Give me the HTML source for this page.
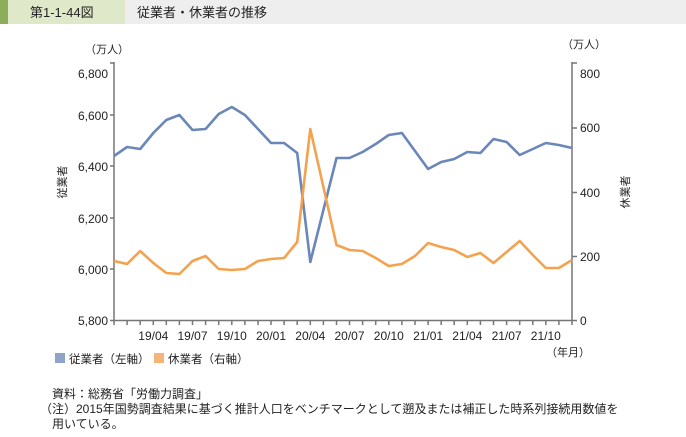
<!DOCTYPE html>
<html><head><meta charset="utf-8"><style>
body{margin:0;width:686px;height:432px;background:#fff;overflow:hidden;font-family:"Liberation Sans","Noto Sans CJK JP",sans-serif;}
</style></head><body>
<svg width="686" height="432" xmlns="http://www.w3.org/2000/svg" font-family="Liberation Sans, Noto Sans CJK JP, sans-serif">
<rect x="0" y="0" width="686" height="24" fill="#eeeeee"/>
<rect x="0" y="0" width="125" height="24" fill="#dfe8c8"/>
<rect x="0" y="0" width="8" height="24" fill="#8cae5a"/>
<text x="30" y="17" font-size="13" fill="#222">第1-1-44図</text>
<text x="137" y="17" font-size="13" fill="#222">従業者・休業者の推移</text>

<text x="85" y="53" font-size="11" fill="#222">（万人）</text>
<text x="562" y="48" font-size="11" fill="#222">（万人）</text>
<g font-size="12" fill="#222" text-anchor="end">
<text x="108" y="78">6,800</text><text x="108" y="120">6,600</text><text x="108" y="171">6,400</text>
<text x="108" y="223">6,200</text><text x="108" y="274">6,000</text><text x="108" y="325">5,800</text>
</g>
<g font-size="12" fill="#222">
<text x="580" y="78">800</text><text x="580" y="132">600</text><text x="580" y="197">400</text>
<text x="580" y="261">200</text><text x="580" y="325">0</text>
</g>
<text transform="translate(66,182) rotate(-90)" font-size="11" text-anchor="middle" fill="#222">従業者</text>
<text transform="translate(629,192) rotate(-90)" font-size="11" text-anchor="middle" fill="#222">休業者</text>

<g stroke="#777" stroke-width="1.5" fill="none">
<line x1="114" y1="62" x2="114" y2="321"/>
<line x1="572" y1="62" x2="572" y2="321"/>
<line x1="114" y1="320.5" x2="572" y2="320.5"/>
<path d="M110 63H114M110 115H114M110 166H114M110 218H114M110 269H114M110 320.5H114"/>
<path d="M572 63H577M572 128H577M572 192.5H577M572 256.5H577M572 320.5H577"/>
<path d="M114 321v4M127.1 321v4M140.2 321v4M153.3 321v4M166.3 321v4M179.4 321v4M192.5 321v4M205.6 321v4M218.7 321v4M231.8 321v4M244.9 321v4M258 321v4M271 321v4M284.1 321v4M297.2 321v4M310.3 321v4M323.4 321v4M336.5 321v4M349.5 321v4M362.6 321v4M375.7 321v4M388.8 321v4M401.9 321v4M415 321v4M428.1 321v4M441.2 321v4M454.2 321v4M467.3 321v4M480.4 321v4M493.5 321v4M506.6 321v4M519.7 321v4M532.8 321v4M545.8 321v4M558.9 321v4M572 321v4"/>
</g>
<g font-size="12" fill="#222" text-anchor="middle">
<text x="153.3" y="340">19/04</text><text x="192.5" y="340">19/07</text><text x="231.8" y="340">19/10</text>
<text x="271" y="340">20/01</text><text x="310.3" y="340">20/04</text><text x="349.5" y="340">20/07</text>
<text x="388.8" y="340">20/10</text><text x="428.1" y="340">21/01</text><text x="467.3" y="340">21/04</text>
<text x="506.6" y="340">21/07</text><text x="545.8" y="340">21/10</text>
</g>
<text x="546" y="356" font-size="11" fill="#222">（年月）</text>

<polyline fill="none" stroke="#6b87b9" stroke-width="2.6" stroke-linejoin="round" points="114,156 127.1,147 140.2,149 153.3,133 166.3,120 179.4,115 192.5,130 205.6,129 218.7,114 231.8,107 244.9,115 258,129 271,143 284.1,143 297.2,153 310.3,262 323.4,210 336.5,158 349.5,158 362.6,152 375.7,144 388.8,135 401.9,133 415,151 428.1,169 441.2,162 454.2,159 467.3,152 480.4,153 493.5,139 506.6,142 519.7,155 532.8,149 545.8,143 558.9,145 572,148"/>
<polyline fill="none" stroke="#f4a24e" stroke-width="2.6" stroke-linejoin="round" points="114,261 127.1,264 140.2,251 153.3,263 166.3,273 179.4,274 192.5,261 205.6,256 218.7,269 231.8,270 244.9,269 258,261 271,259 284.1,258 297.2,242 310.3,129 323.4,187 336.5,245 349.5,250 362.6,251 375.7,258 388.8,266 401.9,264 415,256 428.1,243 441.2,247 454.2,250 467.3,257 480.4,253 493.5,263 506.6,252 519.7,241 532.8,255 545.8,268 558.9,268 572,260"/>

<rect x="55" y="353" width="10" height="10" fill="#8ea3c8"/>
<text x="69" y="363" font-size="11.5" fill="#222">従業者（左軸）</text>
<rect x="154" y="353" width="10" height="10" fill="#f5b47a"/>
<text x="168" y="363" font-size="11.5" fill="#222">休業者（右軸）</text>

<g font-size="12" fill="#222">
<text x="52" y="398">資料：総務省「労働力調査」</text>
<text x="40" y="413">（注）2015年国勢調査結果に基づく推計人口をベンチマークとして遡及または補正した時系列接続用数値を</text>
<text x="52" y="428">用いている。</text>
</g>
</svg>
</body></html>
